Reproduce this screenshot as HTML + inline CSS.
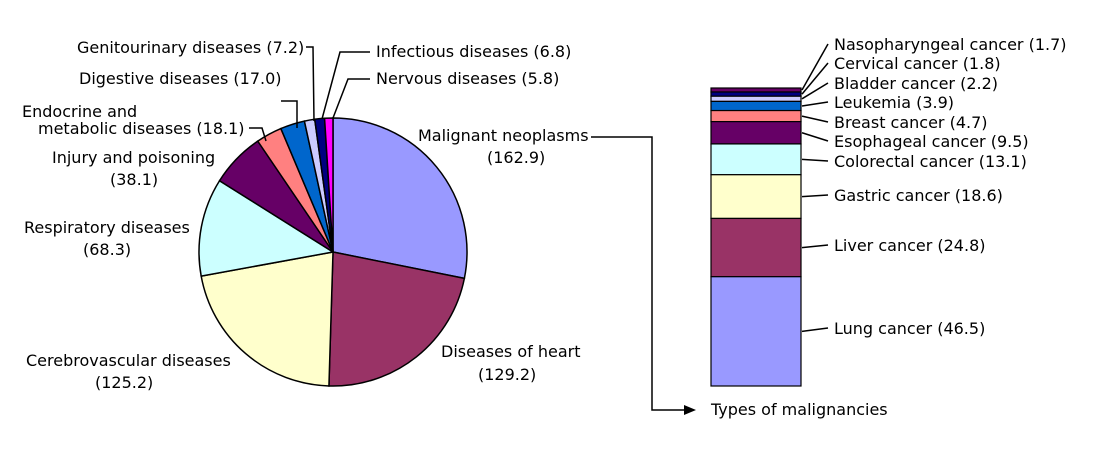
<!DOCTYPE html>
<html><head><meta charset="utf-8"><style>
body{margin:0;background:#fff}
svg text{font-family:"DejaVu Sans","Liberation Sans",sans-serif;font-size:16px;fill:#000}
</style></head><body>
<svg id="s" width="1116" height="455" xmlns="http://www.w3.org/2000/svg">
<g id="pie" stroke="#000" stroke-width="1.5"></g>
<text x="418" y="141">Malignant neoplasms</text>
<text x="487" y="163">(162.9)</text>
<text x="441" y="357">Diseases of heart</text>
<text x="478" y="380">(129.2)</text>
<text x="26" y="366">Cerebrovascular diseases</text>
<text x="95" y="388">(125.2)</text>
<text x="24" y="233">Respiratory diseases</text>
<text x="83" y="255">(68.3)</text>
<text x="52" y="163">Injury and poisoning</text>
<text x="110" y="185">(38.1)</text>
<text x="22" y="117">Endocrine and</text>
<text x="38" y="134">metabolic diseases (18.1)</text>
<text x="79" y="84">Digestive diseases (17.0)</text>
<text x="77" y="53">Genitourinary diseases (7.2)</text>
<text x="376" y="57">Infectious diseases (6.8)</text>
<text x="376" y="84">Nervous diseases (5.8)</text>
<g stroke="#000" stroke-width="1.5" fill="none">
<polyline points="591,137 652,137 652,410 690,410"/>
<polyline points="306,47 313,47 314,121"/>
<polyline points="281,101 297,101 297,128"/>
<polyline points="249,128 262,128 266,141"/>
<polyline points="370,52 340,52 322,119"/>
<polyline points="370,79 348,79 333,118"/>
</g>
<polygon points="696,410 684,405 684,415" fill="#000"/>
<text x="711" y="415">Types of malignancies</text>
<g id="bar" stroke="#000" stroke-width="1.2"></g>
<g id="bl" stroke="#000" stroke-width="1.5"></g>
</svg>
<script>
var ns="http://www.w3.org/2000/svg";
function el(p,t,a){var e=document.createElementNS(ns,t);for(var k in a)e.setAttribute(k,a[k]);p.appendChild(e);return e;}
var pv=[162.9,129.2,125.2,68.3,38.1,18.1,17.0,7.2,6.8,5.8];
var pc=["#9999ff","#993366","#ffffcc","#ccffff","#660066","#ff8080","#0066cc","#ccccff","#000080","#ff00ff"];
var tot=pv.reduce((a,b)=>a+b),cx=333,cy=252,r=134,a=0,g=document.getElementById("pie");
pv.forEach(function(v,i){var a2=a+v/tot*2*Math.PI;
var x1=cx+r*Math.sin(a),y1=cy-r*Math.cos(a),x2=cx+r*Math.sin(a2),y2=cy-r*Math.cos(a2);
el(g,"path",{d:"M"+cx+","+cy+"L"+x1+","+y1+"A"+r+","+r+" 0 "+((a2-a)>Math.PI?1:0)+" 1 "+x2+","+y2+"Z",fill:pc[i]});a=a2;});
var bv=[1.7,1.8,2.2,3.9,4.7,9.5,13.1,18.6,24.8,46.5];
var bc=["#660066","#000080","#ccccff","#0066cc","#ff8080","#660066","#ccffff","#ffffcc","#993366","#9999ff"];
var bn=["Nasopharyngeal cancer (1.7)","Cervical cancer (1.8)","Bladder cancer (2.2)","Leukemia (3.9)","Breast cancer (4.7)","Esophageal cancer (9.5)","Colorectal cancer (13.1)","Gastric cancer (18.6)","Liver cancer (24.8)","Lung cancer (46.5)"];
var ly=[45,64,84,103,123,142,162,196,246,329];
var bt=bv.reduce((a,b)=>a+b),y=88,sc=298/bt,b=document.getElementById("bar"),bl=document.getElementById("bl"),s=document.getElementById("s");
bv.forEach(function(v,i){var h=v*sc;el(b,"rect",{x:711,y:y,width:90,height:h,fill:bc[i]});
var m=y+h/2;el(bl,"line",{x1:802,y1:m,x2:828,y2:ly[i]-1});
var t=el(s,"text",{x:834,y:ly[i]+5});t.textContent=bn[i];y+=h;});
</script>
</body></html>
